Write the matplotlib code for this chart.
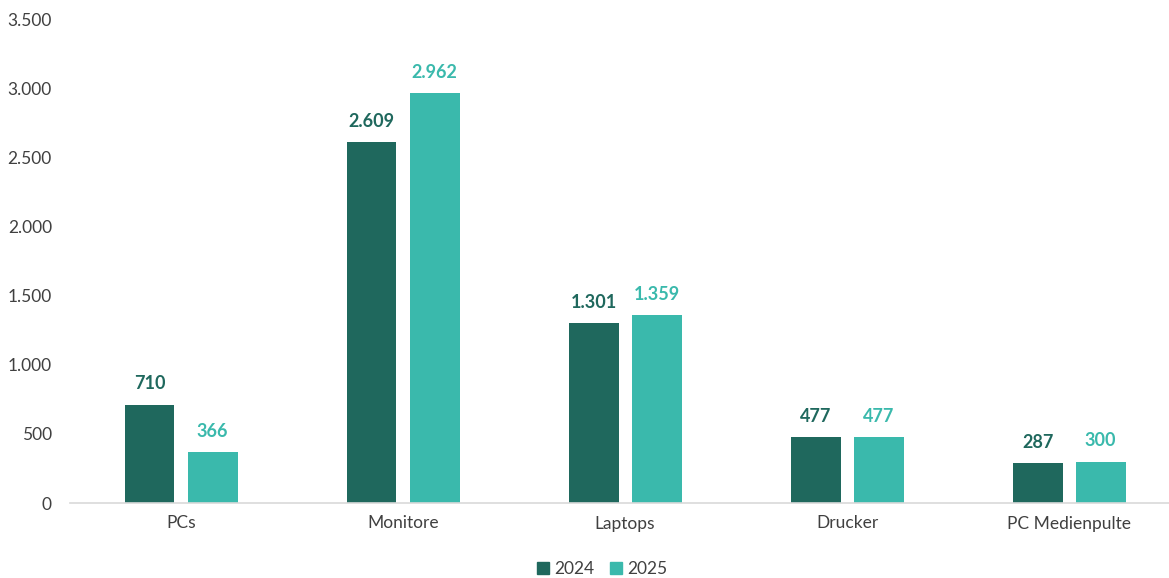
import numpy as np
import matplotlib.pyplot as plt
from matplotlib.patches import Patch

categories = ["PCs", "Monitore", "Laptops", "Drucker", "PC Medienpulte"]
vals_2024 = [710, 2609, 1301, 477, 287]
vals_2025 = [366, 2962, 1359, 477, 300]
years = ["2024", "2025"]
c_dark = "#1f685d"
c_light = "#3ab9ac"

plt.rcParams['font.family'] = ['Lato', 'DejaVu Sans']

def fmt(v):
    return f"{v:,}".replace(",", ".")

fig = plt.figure(figsize=(11.69, 5.78), dpi=100)
ax = fig.add_axes([70/1169, 75/578, 1 - 70/1169, 484/578])

x = np.arange(len(categories))
w = 0.225
off = 0.142
ax.bar(x - off, vals_2024, w, color=c_dark)
ax.bar(x + off, vals_2025, w, color=c_light)

for xi, v in zip(x - off, vals_2024):
    ax.text(xi, v + 90, fmt(v), ha="center", va="bottom", fontsize=13,
            fontweight="bold", color=c_dark)
for xi, v in zip(x + off, vals_2025):
    ax.text(xi, v + 90, fmt(v), ha="center", va="bottom", fontsize=13,
            fontweight="bold", color=c_light)

ax.set_xlim(-0.5, 4.45)
ax.set_ylim(0, 3500)
ax.set_yticks(np.arange(0, 3501, 500))
ax.set_yticklabels([fmt(v) for v in range(0, 3501, 500)])
ax.set_xticks(x)
ax.set_xticklabels(categories)
ax.tick_params(axis="both", length=0, labelsize=12.5, colors="#404040")
ax.tick_params(axis="y", pad=13)
ax.tick_params(axis="x", pad=9)
for s in ["top", "right", "left"]:
    ax.spines[s].set_visible(False)
ax.spines["bottom"].set_color("#d9d9d9")
ax.spines["bottom"].set_linewidth(1.2)

handles = [Patch(color=c_dark), Patch(color=c_light)]
fig.legend(handles, years, loc="center", bbox_to_anchor=(602/1169, 1 - 569/578),
           ncol=2, frameon=False, fontsize=12.5, handlelength=0.7, handleheight=0.7,
           handletextpad=0.3, columnspacing=0.9, labelcolor="#404040")

fig.savefig("out.png")
